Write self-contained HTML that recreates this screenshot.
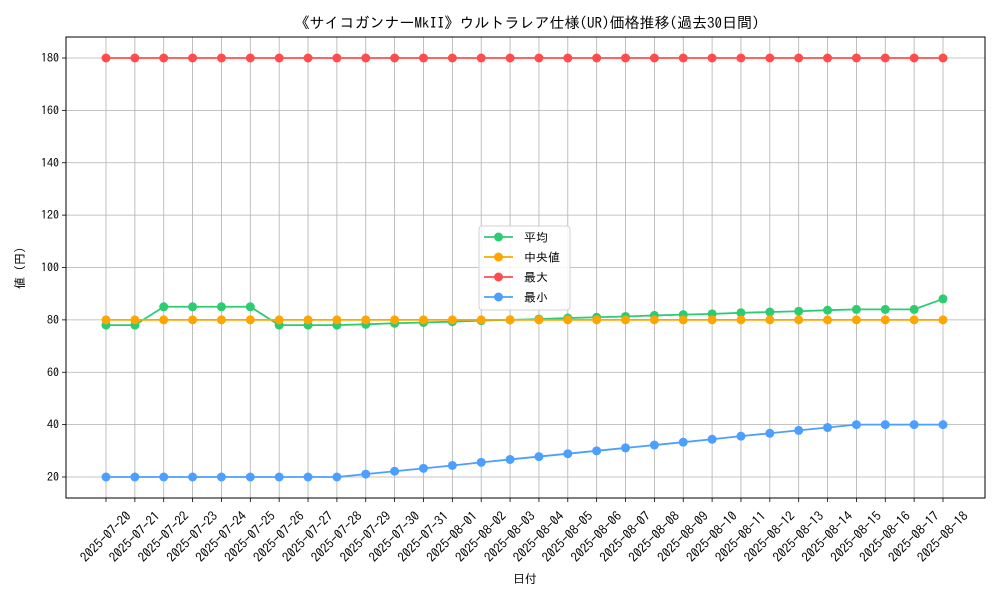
<!DOCTYPE html>
<html><head><meta charset="utf-8"><style>
body{margin:0;background:#fff}
svg text{font-family:"IPAGothic","Liberation Sans",sans-serif;fill:#000}
</style></head><body>
<svg id="chart" width="1000" height="600" xmlns="http://www.w3.org/2000/svg">
<rect width="1000" height="600" fill="#fff"/>
<text x="527" y="28" font-size="15" text-anchor="middle">《サイコガンナーMkII》ウルトラレア仕様(UR)価格推移(過去30日間)</text>
<g id="grid"></g><g id="series"></g><g id="axes"></g>
<text x="525" y="583" font-size="12" text-anchor="middle">日付</text>
<text transform="translate(24,268) rotate(-90)" font-size="12" text-anchor="middle">値 (円)</text>
<g id="legend"></g>
</svg>
<script>
const dates=["2025-07-20","2025-07-21","2025-07-22","2025-07-23","2025-07-24","2025-07-25","2025-07-26","2025-07-27","2025-07-28","2025-07-29","2025-07-30","2025-07-31","2025-08-01","2025-08-02","2025-08-03","2025-08-04","2025-08-05","2025-08-06","2025-08-07","2025-08-08","2025-08-09","2025-08-10","2025-08-11","2025-08-12","2025-08-13","2025-08-14","2025-08-15","2025-08-16","2025-08-17","2025-08-18"];
const avgVals=[78,78,85,85,85,85,78,78,78,78.3,78.7,79,79.3,79.7,80,80.3,80.7,81,81.3,81.7,82,82.3,82.7,83,83.3,83.7,84,84,84,88];
const medVals=[80,80,80,80,80,80,80,80,80,80,80,80,80,80,80,80,80,80,80,80,80,80,80,80,80,80,80,80,80,80];
const maxVals=[180,180,180,180,180,180,180,180,180,180,180,180,180,180,180,180,180,180,180,180,180,180,180,180,180,180,180,180,180,180];
const minVals=[20,20,20,20,20,20,20,20,20,21.1,22.2,23.3,24.4,25.6,26.7,27.8,28.9,30,31.1,32.2,33.3,34.4,35.6,36.7,37.8,38.9,40,40,40,40];
const yTicks=[20,40,60,80,100,120,140,160,180];
const seriesNames=["平均","中央値","最大","最小"];
const colors=["#2ecc71","#ffa500","#ff4d4d","#4d9fff"];
const NS="http://www.w3.org/2000/svg";
const L=66,R=985,T=37,B=498;
const x0=106,dx=(943-106)/29;
const xs=i=>x0+i*dx;
const ys=v=>477-(v-20)*(477-58)/160;
function mk(tag,attrs,parent){const e=document.createElementNS(NS,tag);for(const k in attrs)e.setAttribute(k,attrs[k]);parent.appendChild(e);return e;}
const grid=document.getElementById('grid'),axes=document.getElementById('axes'),ser=document.getElementById('series');
dates.forEach((d,i)=>{
 const g=mk('line',{x1:xs(i),x2:xs(i),y1:T,y2:B,stroke:'#b0b0b0','stroke-width':0.8},grid);
 
 
 mk('line',{x1:xs(i),x2:xs(i),y1:B,y2:B+4,stroke:'#000','stroke-width':0.8},axes);
 const t=mk('text',{x:0,y:4,'font-size':13,'text-anchor':'middle',transform:`translate(${xs(i)},537) rotate(-45)`},axes);
 t.textContent=d;
 
 
});
yTicks.forEach(v=>{
 const g=mk('line',{x1:L,x2:R,y1:ys(v),y2:ys(v),stroke:'#b0b0b0','stroke-width':0.8},grid);
 
 
 mk('line',{x1:L-4,x2:L,y1:ys(v),y2:ys(v),stroke:'#000','stroke-width':0.8},axes);
 const t=mk('text',{x:L-7,y:ys(v)+4,'font-size':12,'text-anchor':'end'},axes);
 t.textContent=v;
 
 
});
const fr=mk('rect',{x:L,y:T,width:R-L,height:B-T,fill:'none',stroke:'#000','stroke-width':1},axes);


[avgVals,medVals,maxVals,minVals].forEach((vals,si)=>{
 const g=mk('g',{},ser);
 
 
 mk('polyline',{points:vals.map((v,i)=>xs(i)+','+ys(v)).join(' '),fill:'none',stroke:colors[si],'stroke-width':1.8},g);
 vals.forEach((v,i)=>{
  const c=mk('circle',{cx:xs(i),cy:ys(v),r:4.5,fill:colors[si]},g);
  
  
 });
});
const lg=document.getElementById('legend');
mk('rect',{x:479,y:226,width:91,height:84,rx:3,fill:'#fff','fill-opacity':0.85,stroke:'#d0d0d0'},lg);
seriesNames.forEach((n,i)=>{
 const y=237+i*20;
 const e=mk('g',{},lg);
 
 
 mk('line',{x1:484,x2:513,y1:y,y2:y,stroke:colors[i],'stroke-width':1.8},e);
 mk('circle',{cx:498.5,cy:y,r:4.5,fill:colors[i]},e);
 const t=mk('text',{x:524,y:y+4.5,'font-size':12},e);
 t.textContent=n;
});
</script>
</body></html>
